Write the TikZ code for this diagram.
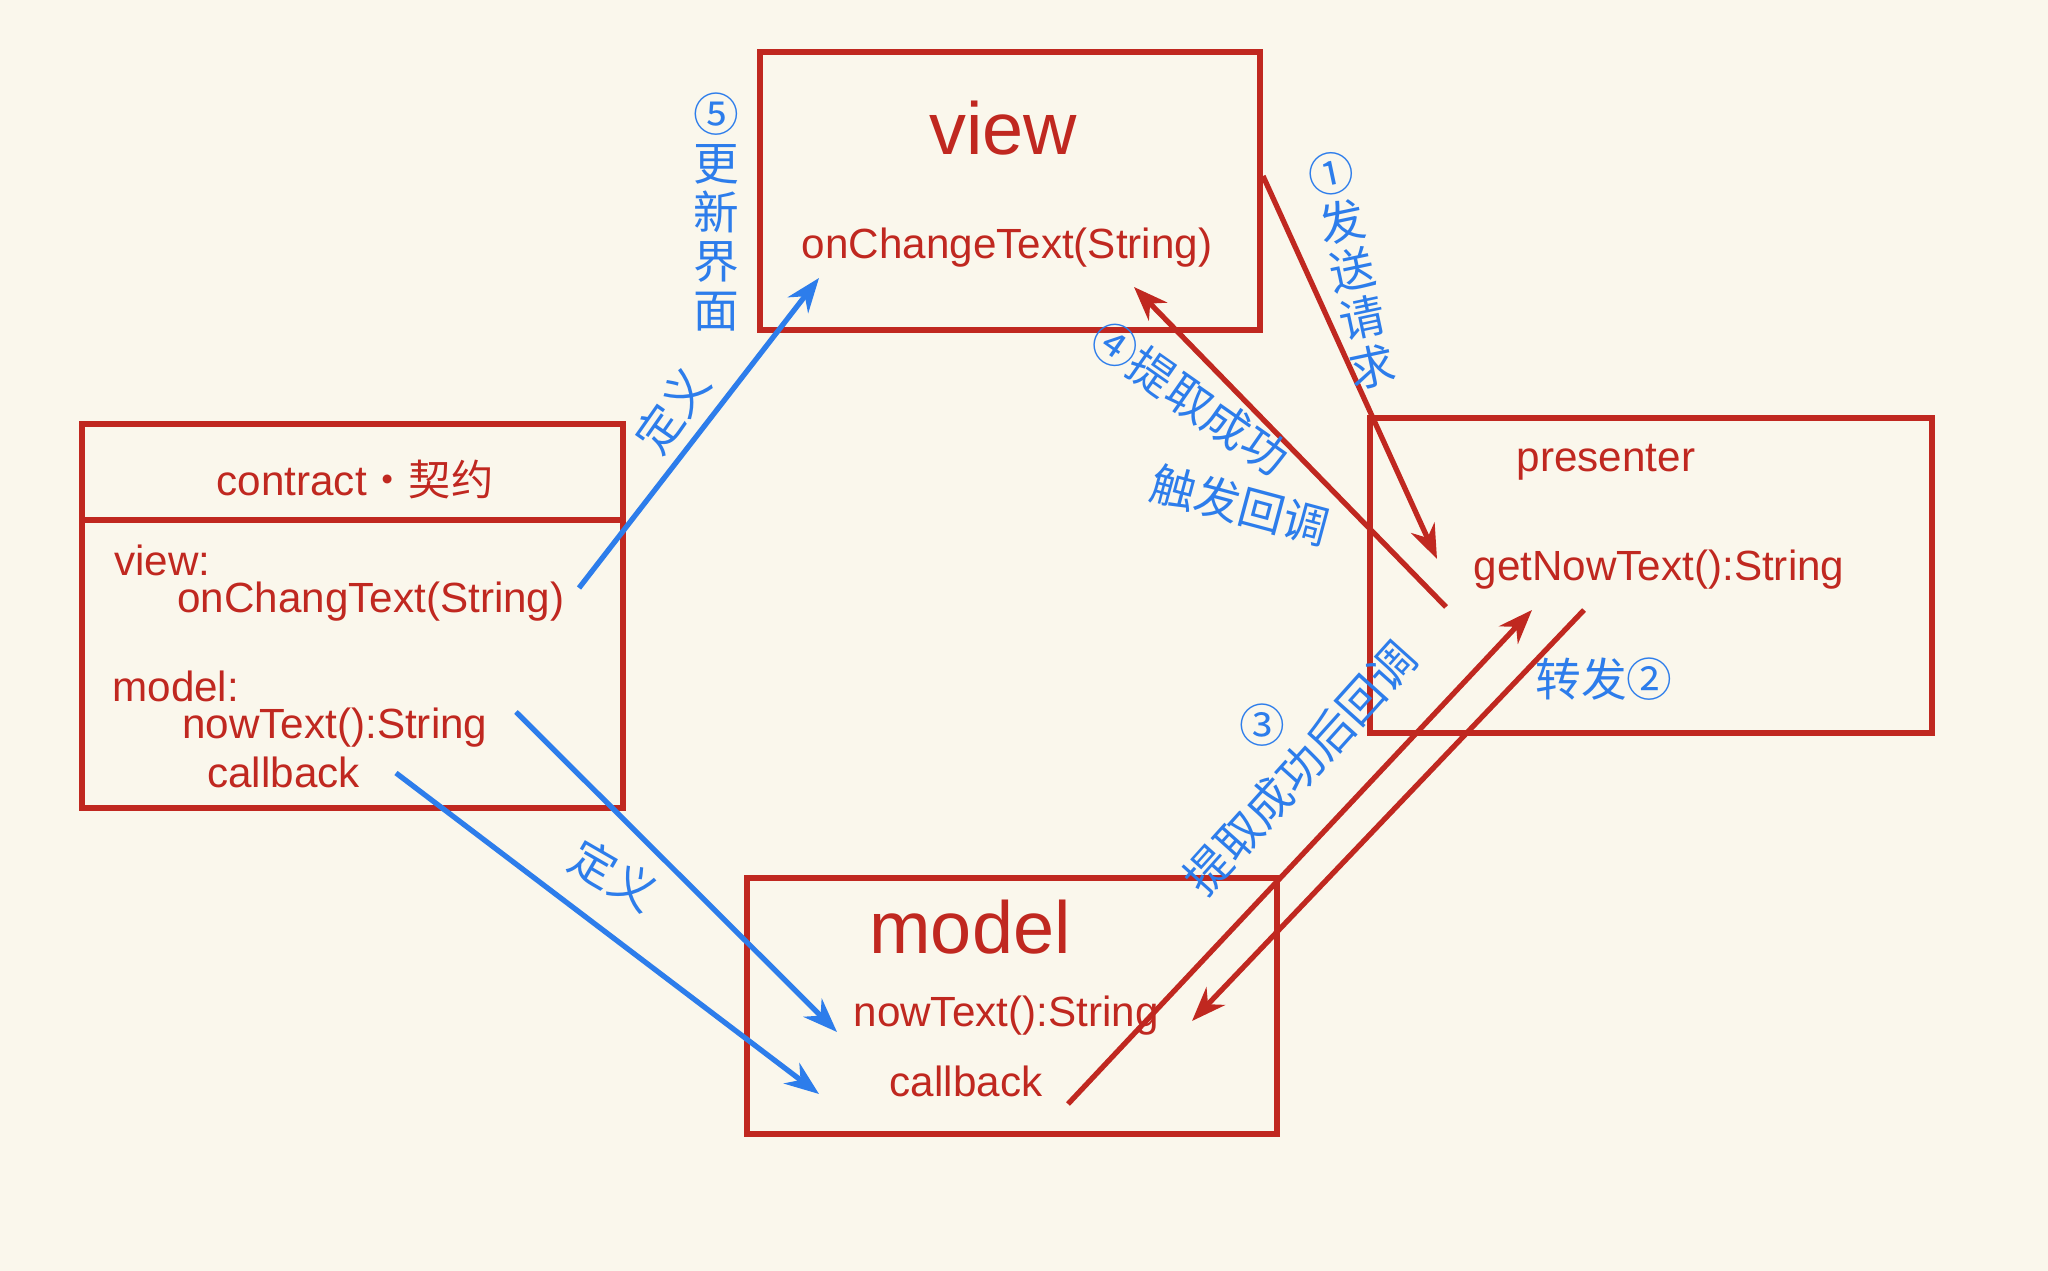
\documentclass[tikz,border=0pt]{standalone}
\usepackage{fontspec}
\setmainfont{Liberation Sans}
\newfontfamily\cjk{Noto Sans CJK SC}
\usetikzlibrary{arrows.meta, positioning}
\definecolor{pen}{RGB}{192,40,32}
\definecolor{ink}{RGB}{45,125,235}
\definecolor{paper}{RGB}{250,247,236}
\begin{document}
\begin{tikzpicture}[
    x=0.01cm, y=-0.01cm,
    >=Stealth,
    % Style definitions
    box/.style={draw=pen, line width=1.8pt},
    title/.style={text=pen, font=\fontsize{21}{25}\selectfont},
    member/.style={text=pen, font=\fontsize{12}{15}\selectfont, align=left},
    note/.style={text=ink, font=\cjk\fontsize{13}{14}\selectfont, align=center, inner sep=1pt},
    define/.style={->, ink, line width=1.5pt},
    call/.style={->, pen, line width=1.5pt},
]
\fill[paper] (0,0) rectangle (2048,1271);

%% ---------- BOXES ----------
\draw[box] (760,52) rectangle (1260,330);
\draw[box] (82,424) rectangle (623,808);
\draw[box] (82,520) -- (623,520);
\draw[box] (1370,418) rectangle (1932,733);
\draw[box] (747,878) rectangle (1277,1134);

%% ---------- VIEW ----------
\node[title] (view_title) at (1003,128) {view};
\node[member] (view_text) at (1007,248) {onChangeText(String)};

%% ---------- CONTRACT ----------
\node[member] (contract_title) at (355,479) {contract{\cjk ·契约}};
\node[member, anchor=west] (contract_view) at (102,560) {view:};
\node[member, anchor=west] (contract_change) at (165,602) {onChangText(String)};
\node[member, anchor=west] (contract_model) at (100,686) {model:};
\node[member, anchor=west] (contract_now) at (170,728) {nowText():String};
\node[member, anchor=west] (contract_callback) at (195,772) {callback};

%% ---------- PRESENTER ----------
\node[member] (presenter_title) at (1606,462) {presenter};
\node[member] (presenter_get) at (1659,570) {getNowText():String};

%% ---------- MODEL ----------
\node[title] (model_title) at (970,927) {model};
\node[member] (model_now) at (1006,1016) {nowText():String};
\node[member] (model_callback) at (966,1081) {callback};

%% ========== ARROWS ==========
\coordinate (c_view_out) at (579,588);
\coordinate (c_view_in) at (819,278);
\coordinate (c_now_out) at (516,712);
\coordinate (c_now_in) at (837,1032);
\coordinate (c_cb_out) at (396,773);
\coordinate (c_cb_in) at (819,1094);
\coordinate (v_send) at (1263,176);
\coordinate (p_recv) at (1437,559);
\coordinate (p_back) at (1446,607);
\coordinate (v_back) at (1134,287);
\coordinate (m_cb) at (1068,1104);
\coordinate (p_cb) at (1532,610);
\coordinate (p_fwd) at (1584,610);
\coordinate (m_fwd) at (1192,1021);

% contract defines view and model
\draw[define] (c_view_out) -- (c_view_in);
\draw[define] (c_now_out) -- (c_now_in);
\draw[define] (c_cb_out) -- (c_cb_in);

% request flow
\draw[call] (v_send) -- (p_recv);
\draw[call] (p_fwd) -- (m_fwd);
\draw[call] (m_cb) -- (p_cb);
\draw[call] (p_back) -- (v_back);

%% ========== ANNOTATIONS ==========
\node[note, rotate=55] (define_view) at (672,410) {定义};
\node[note, rotate=-30] (define_model) at (614,875) {定义};
\node[note] (step_five) at (716,212) {⑤\\更\\新\\界\\面};
\node[note, rotate=12] (step_one) at (1352,270) {①\\发\\送\\请\\求};
\node[note, rotate=-35] (step_four) at (1190,398) {④提取成功};
\node[note, rotate=-15] (step_four_b) at (1240,505) {触发回调};
\node[note] (step_two) at (1604,679) {转发②};
\node[note] (step_three) at (1262,725) {③};
\node[note, rotate=48] (step_three_b) at (1300,768) {提取成功后回调};

\end{tikzpicture}
\end{document}
